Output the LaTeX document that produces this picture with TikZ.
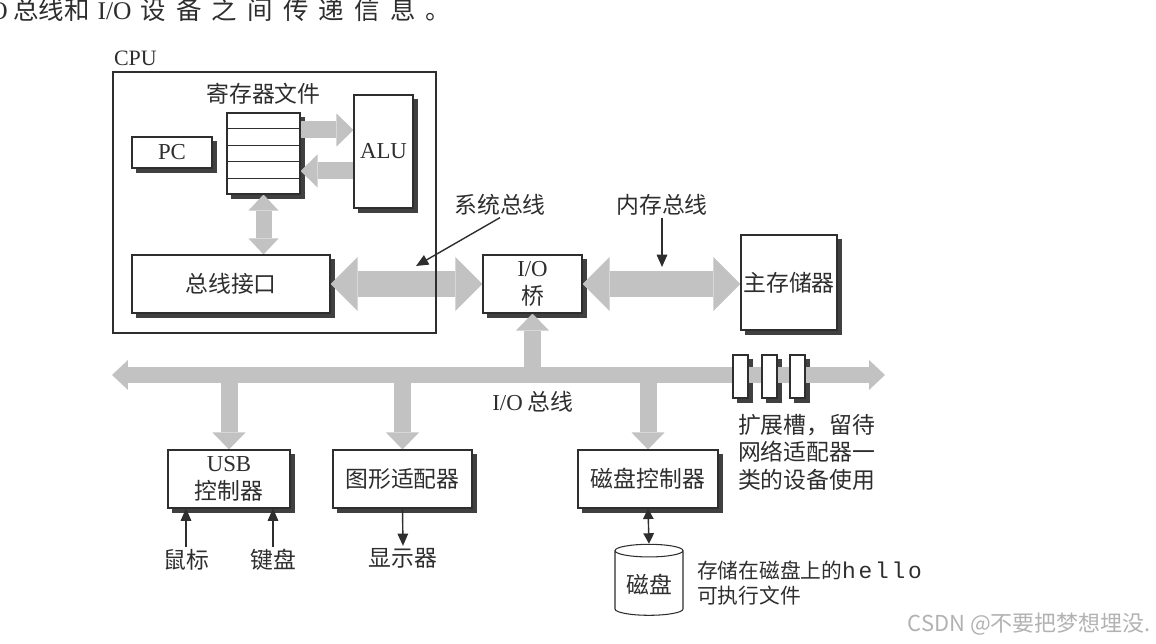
\documentclass[tikz,border=0pt]{standalone}
\usepackage{fontspec}
\setmainfont{Liberation Serif}
\setmonofont{Liberation Mono}[LetterSpace=12]
\newfontfamily\cjk{Noto Sans CJK SC}
\newfontfamily\cjkwide{Noto Sans CJK SC}[LetterSpace=40]
\usetikzlibrary{arrows.meta, positioning, calc, shapes.geometric, backgrounds}
\definecolor{inkgray}{gray}{0.18}
\definecolor{busgray}{gray}{0.76}
\newcommand{\cjkfont}{\cjk\fontsize{13}{15.6}\selectfont}
\newcommand{\lat}[1]{{\rmfamily #1}}

\begin{document}
\begin{tikzpicture}[
  x=0.02cm, y=-0.02cm,
  box/.style={rectangle, draw=inkgray, line width=0.6pt, fill=white,
               inner sep=1pt, font=\cjkfont, text=inkgray, align=center},
  shade box/.style={fill=black!75},
  lbl/.style={font=\cjkfont, text=inkgray, inner sep=1pt, align=center},
  arr/.style={-{Triangle[length=7pt, width=6pt]}, draw=inkgray, line width=0.8pt},
  darr/.style={{Triangle[length=6pt, width=6pt]}-{Triangle[length=6pt, width=6pt]},
               draw=inkgray, line width=0.8pt},
  bus/.style={draw=busgray, line width=0.52cm,
              {Triangle[length=0.54cm, width=1.08cm, line width=0pt]}-{Triangle[length=0.54cm, width=1.08cm, line width=0pt]}},
  port/.style={draw=busgray, line width=0.34cm,
               -{Triangle[length=0.34cm, width=0.66cm, line width=0pt]}},
  dport/.style={draw=busgray, line width=0.32cm,
                {Triangle[length=0.32cm, width=0.6cm, line width=0pt]}-{Triangle[length=0.32cm, width=0.6cm, line width=0pt]}},
]
\useasboundingbox (0,0) rectangle (1156,644);

% caption line cut at the top
\node[lbl, anchor=west, inner sep=0pt, font=\cjk\fontsize{14.5}{16}\selectfont] (caption) at (-11,10)
  {\lat{O} 总线和\hspace{0.3em}\lat{I/O}\hspace{0.35em}{\cjkwide 设备之间传递信息。}};

% CPU
\node[draw=inkgray, line width=1.2pt, minimum width=6.46cm, minimum height=5.22cm] (cpu) at (274.5,202.5) {};
\node[lbl, anchor=south west, yshift=2pt, font=\rmfamily\fontsize{12.5}{14}\selectfont] (cpulbl) at (cpu.north west) {CPU};

\node[box, minimum width=1.46cm, minimum height=1.62cm] (reg) at (263.5,153.5) {};
\foreach \i in {1,...,4}
  \draw[inkgray, line width=0.6pt] ($(reg.north west)!\i/5!(reg.south west)$) -- ($(reg.north east)!\i/5!(reg.south east)$);
\node[lbl, above=0.12cm of reg] (reglbl) {寄存器文件};

\node[box, minimum width=1.6cm, minimum height=0.62cm] (pc) at (172,152.5) {\lat{PC}};
\node[box, minimum width=1.18cm, minimum height=2.26cm] (alu) at (383.5,151.5) {\lat{ALU}};
\node[box, minimum width=3.96cm, minimum height=1.16cm] (busif) at (231,284) {总线接口};

% bridge and memory
\node[box, minimum width=1.98cm, minimum height=1.16cm] (bridge) at (532.5,284) {\lat{I/O}\\桥};
\node[box, minimum width=1.92cm, minimum height=1.9cm] (mem) at (789,282.5) {主存储器};

\node[lbl] (sysbuslbl) at (500,205) {系统总线};
\coordinate (sysbusmark) at (416,266);
\node[lbl] (membuslbl) at (662,205) {内存总线};
\coordinate (membusmark) at (662,267);

% I/O bus
\coordinate (iol) at (112,375);
\coordinate (ior) at (885,375);
\node[lbl] (iobuslbl) at (533,402) {\lat{I/O} 总线};
\foreach \x [count=\i] in {740.5,769.5,797.5}
  \node[box, minimum width=0.3cm, minimum height=0.86cm, inner sep=0pt] (slot\i) at (\x,376.5) {};
\node[lbl, anchor=north west, align=left] (slotlbl) at (736,412) {扩展槽，留待\\网络适配器一\\类的设备使用};

% devices
\node[box, minimum width=2.44cm, minimum height=1.16cm] (usb) at (229,479) {\lat{USB}\\控制器};
\node[box, minimum width=2.78cm, minimum height=1.16cm] (gfx) at (402.5,479) {图形适配器};
\node[box, minimum width=2.8cm, minimum height=1.16cm] (diskc) at (648,479) {磁盘控制器};
\node[cylinder, shape border rotate=90, aspect=0.22, draw=inkgray, line width=0.6pt, fill=white,
      minimum width=1.36cm, minimum height=1.42cm, font=\cjkfont, text=inkgray] (disk) at (649,585)
  {\raisebox{-0.2cm}{磁盘}};

\node[lbl] (mouse) at (186,560) {鼠标};
\node[lbl] (keyb) at (273,560) {键盘};
\node[lbl] (display) at (403,558) {显示器};
\node[lbl, anchor=west, align=left, font=\cjk\fontsize{11.8}{14.2}\selectfont] (hellolbl) at (695,583)
  {存储在磁盘上的{\ttfamily\fontsize{13}{14}\selectfont hello}\\可执行文件};

\begin{scope}[on background layer]
  % box shadows
  \foreach \n in {reg,pc,alu,busif,bridge,mem,slot1,slot2,slot3,usb,gfx,diskc}
    \fill[shade box] ([xshift=0.09cm, yshift=-0.09cm]\n.south west) rectangle ([xshift=0.09cm, yshift=-0.09cm]\n.north east);
  % wide buses
  \draw[bus] (busif.east) -- (bridge.west);
  \draw[bus] (bridge.east) -- (bridge.east -| mem.west);
  \draw[dport] (iol) -- (ior);
  \draw[port] (bridge.south |- iol) -- (bridge.south);
  \draw[port] (usb.north |- iol) -- (usb.north);
  \draw[port] (gfx.north |- iol) -- (gfx.north);
  \draw[port] (diskc.north |- iol) -- (diskc.north);
  \draw[port] ([yshift=0.47cm]reg.east) -- ([yshift=0.47cm]reg.east -| alu.west);
  \draw[port] ([yshift=-0.39cm]alu.west) -- ([yshift=-0.39cm]alu.west -| reg.east);
  \draw[dport] (reg.south) -- (reg.south |- busif.north);
\end{scope}

% thin arrows
\draw[arr] (sysbuslbl.south) -- (sysbusmark);
\draw[arr] (membuslbl.south) -- (membusmark);
\draw[arr] (mouse.north) -- (mouse.north |- usb.south);
\draw[arr] (keyb.north) -- (keyb.north |- usb.south);
\draw[arr] (gfx.south) -- (display.north);
\draw[darr] (diskc.south) -- (disk.north);

\node[anchor=east, inner sep=0pt, text=black!30, font=\cjk\fontsize{12.5}{14}\selectfont] (mark) at (1151,624) {CSDN @不要把梦想埋没.};
\end{tikzpicture}
\end{document}
